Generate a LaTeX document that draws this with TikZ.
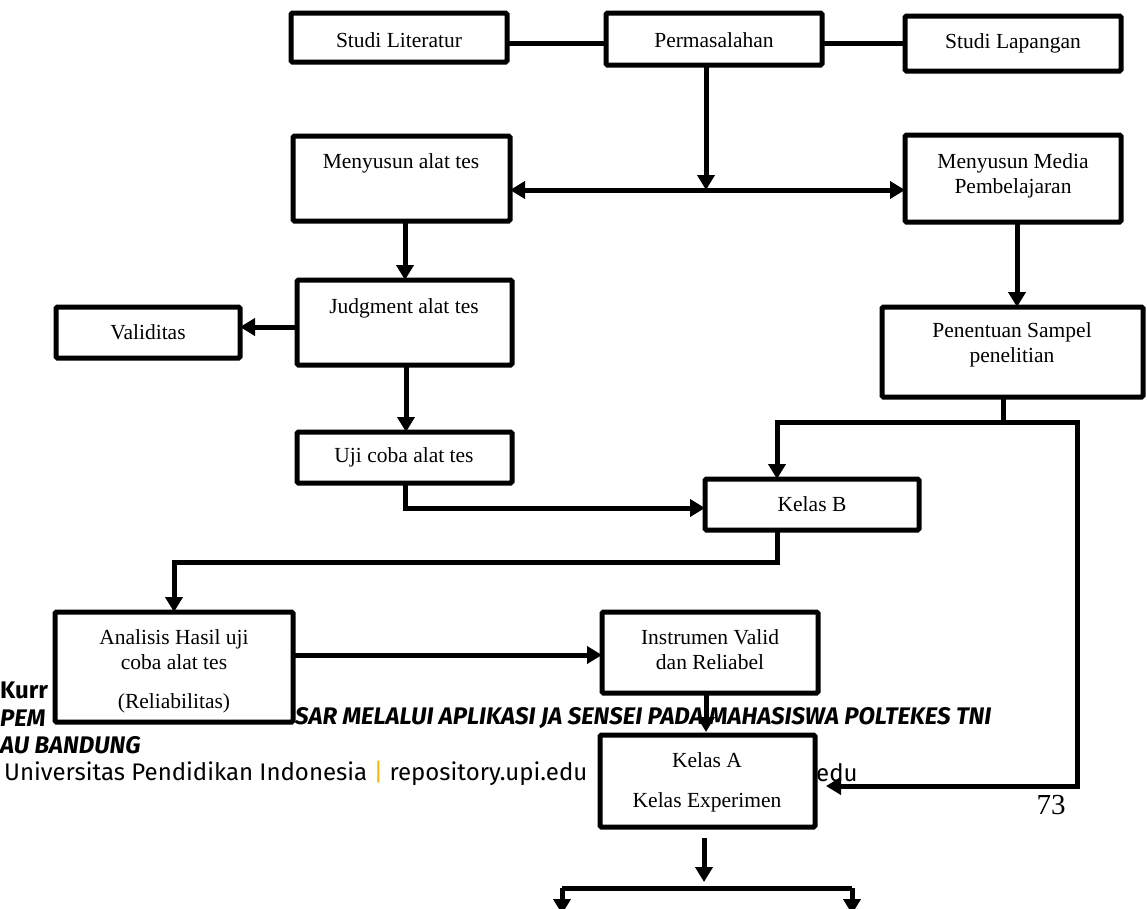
\documentclass[tikz,border=0pt]{standalone}
\usepackage{fontspec}
\setmainfont{Liberation Serif}
\newfontfamily\ftr{Fira Sans}
\usetikzlibrary{arrows.meta,calc}
\definecolor{bar}{HTML}{F2B705}
\tikzset{
 box/.style={draw, line width=5pt, fill=white, rounded corners=1.5pt, inner sep=0pt, outer sep=0pt},
 lbl/.style={font=\fontsize{21.5}{25}\selectfont, align=center, inner sep=0pt},
 conn/.style={line width=5pt},
 arr/.style={line width=5pt, -{Triangle[length=15pt,width=17pt]}},
 foot/.style={font=\ftr\fontsize{24}{24}\selectfont, inner sep=0pt, anchor=west},
 footb/.style={font=\ftr\bfseries\fontsize{24}{24}\selectfont, inner sep=0pt, anchor=west},
 footbi/.style={font=\ftr\bfseries\itshape\fontsize{24}{24}\selectfont, inner sep=0pt, anchor=west},
}
\newcommand\mkbox[5]{\node[box, minimum width={(#4-#2)*1pt}, minimum height={(#5-#3)*1pt}] (#1) at ({(#2+#4)/2},{(#3+#5)/2}) {};}
\begin{document}
\begin{tikzpicture}[x=1pt,y=-1pt]
\useasboundingbox (0,0) rectangle (1147,908);
% footer text (partly covered by boxes)
\node[footb] (kurr) at (0,690) {Kurr};
\node[footbi] (pem) at (0,718) {PEM};
\node[footbi] (sar) at (295,718) {SAR MELALUI APLIKASI JA SENSEI PADA MAHASISWA POLTEKES TNI};
\node[footbi] (au) at (0,745) {AU BANDUNG};
\node[foot] (univ) at (4,773) {Universitas Pendidikan Indonesia {\color{bar}|} repository.upi.edu};
\node[foot] (edu) at (816,773) {edu};
\node[font=\fontsize{29}{29}\selectfont, inner sep=0pt] (pg) at (1051,805) {73};
% boxes
\mkbox{lit}{291}{13}{507}{62}
\mkbox{perm}{606}{13}{822}{65}
\mkbox{lap}{905}{16}{1121}{71}
\mkbox{mat}{293}{136}{510}{221}
\mkbox{mm}{905}{135}{1121}{222}
\mkbox{jud}{297}{280}{512}{365}
\mkbox{val}{56}{307}{240}{358}
\mkbox{uji}{297}{432}{512}{483}
\mkbox{pen}{882}{307}{1143}{397}
\mkbox{kb}{705}{479}{919}{530}
\mkbox{ana}{55}{612}{293}{722}
\mkbox{ins}{602}{612}{818}{693}
\mkbox{ka}{600}{735}{815}{827}
% labels
\node[lbl] (tlit) at (399,40) {Studi Literatur};
\node[lbl] (tperm) at (714,40) {Permasalahan};
\node[lbl] (tlap) at (1013,43) {Studi Lapangan};
\node[lbl] (tmat) at (401,163) {Menyusun alat tes};
\node[lbl] (tmm) at (1013,176) {Menyusun Media\\Pembelajaran};
\node[lbl] (tjud) at (404,308) {Judgment alat tes};
\node[lbl] (tval) at (148,332) {Validitas};
\node[lbl] (tuji) at (404,457) {Uji coba alat tes};
\node[lbl] (tpen) at (1012,345) {Penentuan Sampel\\penelitian};
\node[lbl] (tkb) at (812,504) {Kelas B};
\node[lbl] (tana) at (174,650) {Analisis Hasil uji\\coba alat tes};
\node[lbl] (tana2) at (174,703) {(Reliabilitas)};
\node[lbl] (tins) at (710,650) {Instrumen Valid\\dan Reliabel};
\node[lbl] (tka) at (707,760) {Kelas A};
\node[lbl] (tka2) at (707,802) {Kelas Experimen};
% connectors
\draw[conn] (lit.east |- 0,43) -- (perm.west |- 0,43);
\draw[conn] (perm.east |- 0,43) -- (lap.west |- 0,43);
\coordinate (jn) at (706,190);
\draw[arr] (perm.south -| jn) -- (jn);
\draw[arr] (jn) -- (mm.west |- jn);
\draw[arr] (jn) -- (mat.east |- jn);
\draw[arr] (mat.south -| 405,0) -- (jud.north -| 405,0);
\draw[arr] (jud.west |- 0,327) -- (val.east |- 0,327);
\draw[arr] (jud.south -| 406,0) -- (uji.north -| 406,0);
\draw[arr] (uji.south -| 405,0) -- (405,508) -- (kb.west |- 0,508);
\draw[arr] (mm.south -| 1017,0) -- (pen.north -| 1017,0);
\coordinate (pj) at (1003,422);
\draw[conn] (pen.south -| pj) -- (pj);
\draw[arr] (1077,422) -- (777,422) -- (kb.north -| 777,0);
\draw[arr] (pj) -- (1077,422) -- (1077,786) -- ($(ka.east |- 0,786)+(11,0)$);
\draw[arr] (kb.south -| 777,0) -- (777,562) -- (174,562) -- (ana.north -| 174,0);
\draw[arr] (ana.east |- 0,655) -- (ins.west |- 0,655);
\draw[arr] ($(ins.south -| 706,0)+(0,2)$) -- ($(ka.north -| 706,0)+(0,-3)$);
\draw[arr] ($(ka.south -| 704,0)+(0,11)$) -- (704,882);
\coordinate (bl) at (562,888);
\coordinate (br) at (852,888);
\draw[conn] (bl) -- (br);
\draw[arr] (bl) -- (562,914);
\draw[arr] (br) -- (852,914);
\end{tikzpicture}
\end{document}
